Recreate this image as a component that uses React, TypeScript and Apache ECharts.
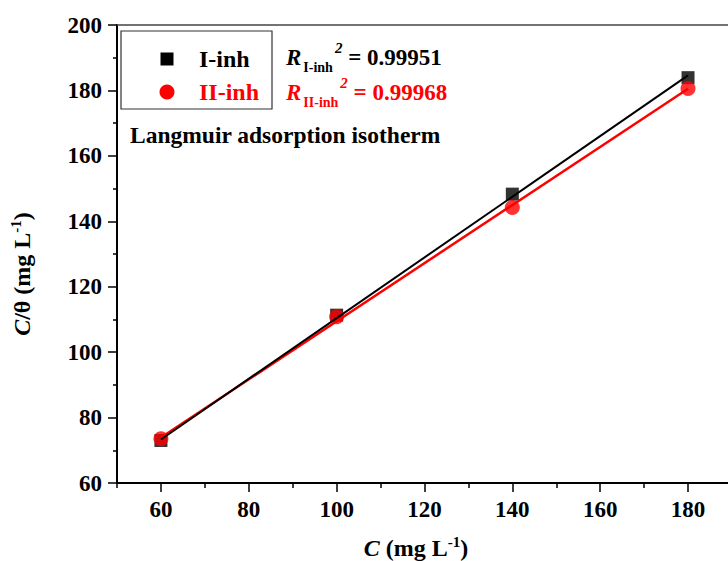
import React, { useEffect, useRef } from "react";
import * as echarts from "echarts";

const concentrations = [60, 100, 140, 180];
const inhI = [73.0, 111.3, 148.3, 183.9];
const inhII = [73.5, 110.8, 144.2, 180.6];
const fitX = [60, 180];
const fitI = [73.3, 184.6];
const fitII = [73.9, 180.5];
const xMajorTicks = [60, 80, 100, 120, 140, 160, 180];
const xMinorTicks = [50, 70, 90, 110, 130, 150, 170];
const seriesNames = ["I-inh", "II-inh"];
const r2Values = ["0.99951", "0.99968"];

const FONT = "'Liberation Serif', 'Times New Roman', serif";
const X_MIN = 50;
const X_MAX = 189.1;

export default function App() {
  const ref = useRef<HTMLDivElement>(null);

  useEffect(() => {
    if (!ref.current) return;
    const chart = echarts.init(ref.current, null, { renderer: "svg" });
    const labelStyle = {
      fontFamily: FONT,
      fontWeight: "bold" as const,
      fontSize: 23,
      color: "#000",
    };
    const nameRich = {
      i: { fontFamily: FONT, fontStyle: "italic", fontWeight: "bold", fontSize: 24, lineHeight: 28, fill: "#000" },
      n: { fontFamily: FONT, fontWeight: "bold", fontSize: 24, lineHeight: 28, fill: "#000" },
      sup: { fontFamily: FONT, fontWeight: "bold", fontSize: 15, lineHeight: 15, verticalAlign: "top", fill: "#000" },
    };
    const option: any = {
      animation: false,
      backgroundColor: "#fff",
      grid: { left: 117, right: 0, top: 25, bottom: 78, containLabel: false },
      xAxis: [
        {
          type: "value",
          min: X_MIN,
          max: X_MAX,
          position: "bottom",
          axisLine: { show: true, lineStyle: { color: "#000", width: 2 } },
          axisTick: {
            show: true,
            inside: false,
            length: 9,
            lineStyle: { color: "#000", width: 1.5 },
            customValues: xMajorTicks,
          },
          axisLabel: { ...labelStyle, margin: 15, customValues: xMajorTicks },
          splitLine: { show: false },
        },
        {
          type: "value",
          min: X_MIN,
          max: X_MAX,
          position: "bottom",
          axisLine: { show: false },
          axisTick: {
            show: true,
            inside: false,
            length: 5,
            lineStyle: { color: "#000", width: 1.5 },
            customValues: xMinorTicks,
          },
          axisLabel: { show: false },
          splitLine: { show: false },
        },
        {
          type: "value",
          min: X_MIN,
          max: X_MAX,
          position: "top",
          axisLine: { show: true, lineStyle: { color: "#444", width: 1.5 } },
          axisTick: { show: false },
          axisLabel: { show: false },
          splitLine: { show: false },
        },
      ],
      yAxis: {
        type: "value",
        min: 60,
        max: 200,
        interval: 20,
        axisLine: { show: true, lineStyle: { color: "#000", width: 2 } },
        axisTick: {
          show: true,
          inside: false,
          length: 9,
          lineStyle: { color: "#000", width: 1.5 },
        },
        minorTick: {
          show: true,
          splitNumber: 2,
          length: 4,
          lineStyle: { color: "#000", width: 1.5 },
        },
        axisLabel: { ...labelStyle, margin: 15 },
        splitLine: { show: false },
        minorSplitLine: { show: false },
      },
      series: [
        {
          name: "fit II",
          type: "line",
          data: fitX.map((x, i) => [x, fitII[i]]),
          showSymbol: false,
          symbol: "none",
          lineStyle: { color: "#ff0000", width: 2.5 },
          z: 3,
        },
        {
          name: "fit I",
          type: "line",
          data: fitX.map((x, i) => [x, fitI[i]]),
          showSymbol: false,
          symbol: "none",
          lineStyle: { color: "#000", width: 2 },
          z: 4,
        },
        {
          name: seriesNames[0],
          type: "scatter",
          data: concentrations.map((x, i) => [x, inhI[i]]),
          symbol: "rect",
          symbolSize: 13,
          itemStyle: { color: "#000" },
          z: 2,
        },
        {
          name: seriesNames[1],
          type: "scatter",
          data: concentrations.map((x, i) => [x, inhII[i]]),
          symbol: "circle",
          symbolSize: 15,
          itemStyle: { color: "#ff0000" },
          z: 2,
        },
      ],
      graphic: [
        {
          type: "rect",
          shape: { x: 121, y: 31, width: 151, height: 78 },
          style: { fill: "#fff", stroke: "#333", lineWidth: 1.2 },
          z: 10,
        },
        {
          type: "rect",
          shape: { x: 160.5, y: 52.5, width: 13, height: 13 },
          style: { fill: "#000" },
          z: 11,
        },
        {
          type: "circle",
          shape: { cx: 167, cy: 92, r: 7.5 },
          style: { fill: "#ff0000" },
          z: 11,
        },
        {
          type: "text",
          x: 199,
          y: 59,
          style: {
            text: seriesNames[0],
            font: `bold 24px ${FONT}`,
            fill: "#000",
            align: "left",
            verticalAlign: "middle",
          },
          z: 11,
        },
        {
          type: "text",
          x: 199,
          y: 92,
          style: {
            text: seriesNames[1],
            font: `bold 24px ${FONT}`,
            fill: "#ff0000",
            align: "left",
            verticalAlign: "middle",
          },
          z: 11,
        },
        ...[0, 1].map((k) => ({
          type: "text",
          x: 286,
          y: k === 0 ? 57 : 92,
          style: {
            text: `{r|R}{sub|${seriesNames[k]}}{sup|2}{n| = ${r2Values[k]}}`,
            fill: k === 0 ? "#000" : "#ff0000",
            align: "left",
            verticalAlign: "middle",
            rich: {
              r: {
                fontFamily: FONT,
                fontStyle: "italic",
                fontWeight: "bold",
                fontSize: 23,
                lineHeight: 34,
                fill: k === 0 ? "#000" : "#ff0000",
                padding: [0, 2, 0, 0],
              },
              sub: {
                fontFamily: FONT,
                fontWeight: "bold",
                fontSize: 14,
                lineHeight: 14,
                verticalAlign: "bottom",
                fill: k === 0 ? "#000" : "#ff0000",
              },
              sup: {
                fontFamily: FONT,
                fontStyle: "italic",
                fontWeight: "bold",
                fontSize: 15,
                lineHeight: 15,
                verticalAlign: "top",
                fill: k === 0 ? "#000" : "#ff0000",
                padding: [0, 0, 0, 2],
              },
              n: {
                fontFamily: FONT,
                fontWeight: "bold",
                fontSize: 23,
                lineHeight: 34,
                fill: k === 0 ? "#000" : "#ff0000",
              },
            },
          },
          z: 11,
        })),
        {
          type: "text",
          x: 130,
          y: 135,
          style: {
            text: "Langmuir adsorption isotherm",
            font: `bold 23.5px ${FONT}`,
            fill: "#000",
            align: "left",
            verticalAlign: "middle",
          },
          z: 11,
        },
        {
          type: "text",
          x: 416,
          y: 548,
          style: {
            text: "{i|C}{n| (mg L}{sup|-1}{n|)}",
            align: "center",
            verticalAlign: "middle",
            rich: nameRich,
          },
        },
        {
          type: "text",
          x: 22,
          y: 274,
          rotation: Math.PI / 2,
          style: {
            text: "{i|C}{n|/θ (mg L}{sup|-1}{n|)}",
            align: "center",
            verticalAlign: "middle",
            rich: nameRich,
          },
        },
      ],
    };
    chart.setOption(option);
    return () => chart.dispose();
  }, []);

  return (
    <div
      ref={ref}
      style={{ position: "fixed", left: 0, top: 0, width: 728, height: 561 }}
    />
  );
}
